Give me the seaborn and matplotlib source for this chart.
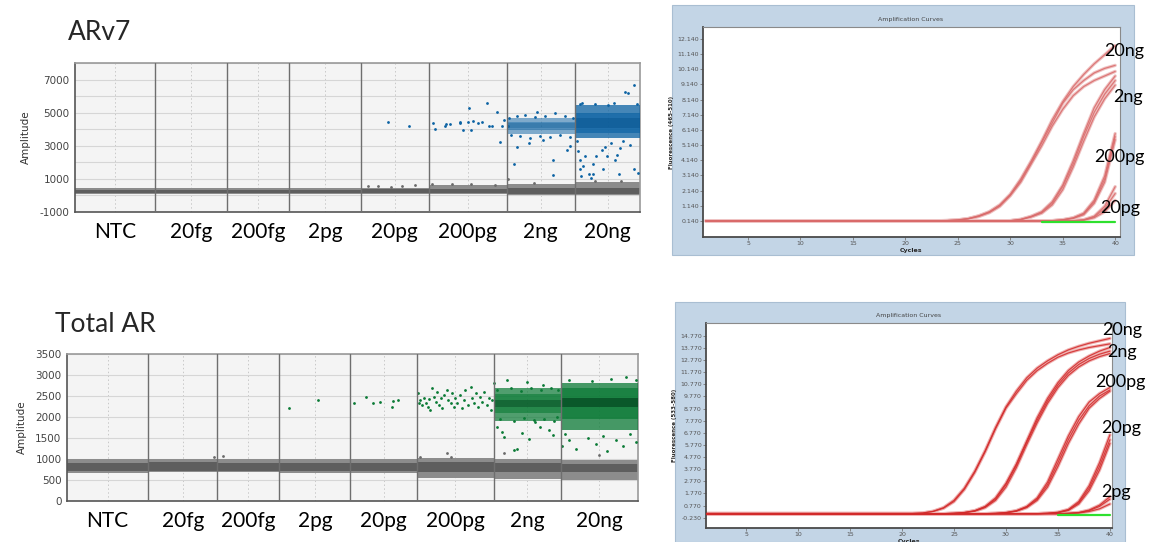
import numpy as np
import pandas as pd
import seaborn as sns
import matplotlib.pyplot as plt
from matplotlib.patches import Rectangle
from matplotlib.ticker import MultipleLocator

wells = ["NTC", "20fg", "200fg", "2pg", "20pg", "200pg", "2ng", "20ng"]

# ---------------- ddPCR droplet data ----------------
# droplets read per well (sets the width of each well on the event axis)
arv7_events = [16000, 14300, 12500, 14400, 13500, 15600, 13700, 13000]
total_events = [16200, 13800, 12400, 14200, 13200, 15400, 13400, 15400]

# negative droplet band per well: outer edge and dense core (amplitude)
arv7_neg_lo = [80, 80, 80, 90, 90, 90, 40, 30]
arv7_neg_hi = [430, 430, 440, 450, 470, 640, 720, 800]
arv7_neg_core_lo = [150, 150, 150, 160, 160, 160, 110, 100]
arv7_neg_core_hi = [340, 340, 340, 350, 360, 400, 430, 470]

total_neg_lo = [660, 680, 680, 670, 660, 540, 530, 500]
total_neg_hi = [1000, 1010, 1000, 1000, 1000, 1020, 990, 980]
total_neg_core_lo = [710, 720, 720, 710, 710, 700, 700, 690]
total_neg_core_hi = [900, 920, 910, 910, 900, 920, 900, 880]

# dense positive clusters (outer, core, centre amplitude bands)
pos_wells = ["2ng", "20ng"]
arv7_pos_outer = [(3700, 4650), (3450, 5450)]
arv7_pos_core = [(3950, 4450), (3800, 5000)]
arv7_pos_centre = [(4100, 4350), (4100, 4700)]
total_pos_outer = [(1900, 2700), (1700, 2820)]
total_pos_core = [(2100, 2550), (1950, 2700)]
total_pos_centre = [(2250, 2400), (2250, 2450)]

# single droplets: (well, position inside well, amplitude)
arv7_pos_drops = [
    ("20pg", .40, 4410), ("20pg", .71, 4210),
    ("200pg", .06, 4370), ("200pg", .085, 4010), ("200pg", .21, 4210), ("200pg", .23, 4330),
    ("200pg", .27, 4290), ("200pg", .40, 4370), ("200pg", .41, 4450), ("200pg", .44, 3930),
    ("200pg", .50, 4450), ("200pg", .52, 5290), ("200pg", .54, 3970), ("200pg", .57, 4490),
    ("200pg", .64, 4370), ("200pg", .685, 4410), ("200pg", .745, 5610), ("200pg", .77, 4210),
    ("200pg", .81, 4170), ("200pg", .88, 5050), ("200pg", .915, 3250), ("200pg", .94, 4170),
    ("200pg", .965, 4570),
    ("2ng", .02, 4170), ("2ng", .04, 4670), ("2ng", .07, 3670), ("2ng", .15, 4770), ("2ng", .20, 3570),
    ("2ng", .27, 4870), ("2ng", .34, 3470), ("2ng", .41, 4730), ("2ng", .49, 3610), ("2ng", .56, 4810),
    ("2ng", .63, 3530), ("2ng", .71, 4970), ("2ng", .78, 3650), ("2ng", .85, 4770), ("2ng", .93, 3530),
    ("2ng", .97, 4650), ("2ng", .11, 1870), ("2ng", .16, 2930), ("2ng", .45, 5070), ("2ng", .68, 2170),
    ("2ng", .68, 1210), ("2ng", .88, 2730), ("2ng", .93, 3010), ("2ng", .54, 3370), ("2ng", .33, 3170),
    ("20ng", .07, 5530), ("20ng", .10, 5610), ("20ng", .03, 3270), ("20ng", .05, 2670), ("20ng", .08, 2170),
    ("20ng", .08, 1570), ("20ng", .09, 1170), ("20ng", .13, 1770), ("20ng", .16, 2370), ("20ng", .21, 1270),
    ("20ng", .24, 1070), ("20ng", .28, 1870), ("20ng", .33, 2370), ("20ng", .41, 2770), ("20ng", .46, 2930),
    ("20ng", .49, 2370), ("20ng", .55, 3170), ("20ng", .62, 2170), ("20ng", .64, 2470), ("20ng", .69, 2870),
    ("20ng", .77, 6270), ("20ng", .82, 6170), ("20ng", .90, 6670), ("20ng", .74, 3270), ("20ng", .85, 3070),
    ("20ng", .97, 1370), ("20ng", .28, 1270), ("20ng", .43, 1570), ("20ng", .68, 1270), ("20ng", .90, 1570),
    ("20ng", .30, 5500), ("20ng", .50, 5450), ("20ng", .60, 5600), ("20ng", .95, 5500),
]
arv7_neg_drops = [
    ("20pg", .10, 550), ("20pg", .25, 600), ("20pg", .45, 520), ("20pg", .60, 580), ("20pg", .80, 620),
    ("200pg", .05, 700), ("200pg", .30, 680), ("200pg", .55, 700), ("200pg", .85, 660),
    ("2ng", .02, 1010), ("2ng", .40, 780), ("20ng", .30, 850), ("20ng", .70, 880),
]
total_pos_drops = [
    ("2pg", .13, 2213), ("2pg", .55, 2404),
    ("20pg", .05, 2340), ("20pg", .23, 2470), ("20pg", .34, 2325), ("20pg", .44, 2365),
    ("20pg", .65, 2390), ("20pg", .72, 2405), ("20pg", .63, 2230),
    ("200pg", .02, 2563), ("200pg", .03, 2340), ("200pg", .05, 2405), ("200pg", .07, 2285),
    ("200pg", .09, 2445), ("200pg", .12, 2325), ("200pg", .15, 2245), ("200pg", .16, 2420),
    ("200pg", .18, 2165), ("200pg", .20, 2680), ("200pg", .23, 2485), ("200pg", .25, 2365),
    ("200pg", .27, 2600), ("200pg", .29, 2285), ("200pg", .31, 2445), ("200pg", .33, 2205),
    ("200pg", .35, 2525), ("200pg", .39, 2640), ("200pg", .41, 2405), ("200pg", .44, 2325),
    ("200pg", .46, 2565), ("200pg", .48, 2245), ("200pg", .50, 2445), ("200pg", .53, 2325),
    ("200pg", .56, 2525), ("200pg", .59, 2205), ("200pg", .61, 2405), ("200pg", .63, 2640),
    ("200pg", .66, 2285), ("200pg", .70, 2720), ("200pg", .72, 2445), ("200pg", .74, 2325),
    ("200pg", .77, 2565), ("200pg", .80, 2245), ("200pg", .82, 2485), ("200pg", .85, 2365),
    ("200pg", .87, 2600), ("200pg", .91, 2285), ("200pg", .94, 2445), ("200pg", .96, 2165),
    ("200pg", .98, 2405),
    ("2ng", .01, 2800), ("2ng", .05, 1770), ("2ng", .13, 1650), ("2ng", .15, 1530), ("2ng", .30, 1210),
    ("2ng", .35, 1250), ("2ng", .42, 1610), ("2ng", .52, 1470), ("2ng", .62, 1890), ("2ng", .69, 1770),
    ("2ng", .82, 1690), ("2ng", .89, 1570), ("2ng", .94, 2010), ("2ng", .20, 2880), ("2ng", .50, 2840),
    ("2ng", .74, 2760), ("2ng", .05, 2650), ("2ng", .25, 2700), ("2ng", .40, 2620), ("2ng", .55, 2680),
    ("2ng", .70, 2640), ("2ng", .85, 2700), ("2ng", .95, 2650), ("2ng", .10, 1950), ("2ng", .30, 1900),
    ("2ng", .45, 1980), ("2ng", .60, 1920), ("2ng", .75, 1960), ("2ng", .90, 1900),
    ("20ng", .02, 1300), ("20ng", .05, 1600), ("20ng", .10, 1450), ("20ng", .20, 1250), ("20ng", .35, 1500),
    ("20ng", .45, 1350), ("20ng", .55, 1550), ("20ng", .60, 1200), ("20ng", .72, 1450), ("20ng", .80, 1300),
    ("20ng", .90, 1600), ("20ng", .97, 1400), ("20ng", .10, 2880), ("20ng", .40, 2850), ("20ng", .65, 2900),
    ("20ng", .85, 2950), ("20ng", .98, 2870),
]
total_neg_drops = [
    ("20fg", .95, 1050), ("200fg", .10, 1080), ("200pg", .05, 1050), ("200pg", .40, 1150),
    ("200pg", .45, 1050), ("2ng", .15, 1150), ("20ng", .50, 1100),
]

# ---------------- qPCR amplification curves ----------------
amp_cycles = list(range(21, 41))

arv7_20ng = [
    [0.14, 0.14, 0.15, 0.17, 0.21, 0.30, 0.48, 0.75, 1.20, 1.90, 2.90, 4.10, 5.40, 6.80, 8.00, 9.00, 9.80, 10.50, 11.10, 11.70],
    [0.14, 0.14, 0.15, 0.16, 0.20, 0.29, 0.46, 0.72, 1.15, 1.85, 2.80, 4.00, 5.30, 6.60, 7.90, 8.80, 9.40, 9.90, 10.20, 10.40],
    [0.14, 0.14, 0.14, 0.16, 0.19, 0.27, 0.43, 0.68, 1.10, 1.80, 2.70, 3.90, 5.10, 6.40, 7.50, 8.40, 9.00, 9.40, 9.70, 10.00],
]
arv7_2ng = [
    [0.14, 0.14, 0.14, 0.14, 0.14, 0.14, 0.14, 0.14, 0.14, 0.16, 0.25, 0.45, 0.75, 1.40, 2.50, 4.10, 5.90, 7.60, 8.80, 9.70],
    [0.14, 0.14, 0.14, 0.14, 0.14, 0.14, 0.14, 0.14, 0.14, 0.15, 0.23, 0.42, 0.70, 1.30, 2.40, 3.90, 5.70, 7.30, 8.50, 9.40],
    [0.14, 0.14, 0.14, 0.14, 0.14, 0.14, 0.14, 0.14, 0.14, 0.15, 0.22, 0.40, 0.65, 1.20, 2.20, 3.70, 5.40, 7.00, 8.20, 9.10],
]
arv7_200pg = [
    [0.14, 0.14, 0.14, 0.14, 0.14, 0.14, 0.14, 0.14, 0.14, 0.14, 0.14, 0.14, 0.14, 0.16, 0.22, 0.35, 0.65, 1.50, 3.10, 5.90],
    [0.14, 0.14, 0.14, 0.14, 0.14, 0.14, 0.14, 0.14, 0.14, 0.14, 0.14, 0.14, 0.14, 0.15, 0.21, 0.33, 0.60, 1.40, 2.90, 5.70],
    [0.14, 0.14, 0.14, 0.14, 0.14, 0.14, 0.14, 0.14, 0.14, 0.14, 0.14, 0.14, 0.14, 0.15, 0.20, 0.30, 0.55, 1.30, 2.70, 5.50],
]
arv7_20pg = [
    [0.14, 0.14, 0.14, 0.14, 0.14, 0.14, 0.14, 0.14, 0.14, 0.14, 0.14, 0.14, 0.14, 0.14, 0.14, 0.16, 0.22, 0.45, 1.10, 2.40],
    [0.14, 0.14, 0.14, 0.14, 0.14, 0.14, 0.14, 0.14, 0.14, 0.14, 0.14, 0.14, 0.14, 0.14, 0.14, 0.15, 0.20, 0.40, 0.95, 1.95],
    [0.14, 0.14, 0.14, 0.14, 0.14, 0.14, 0.14, 0.14, 0.14, 0.14, 0.14, 0.14, 0.14, 0.14, 0.14, 0.15, 0.18, 0.35, 0.75, 1.50],
]
arv7_ntc_cycles = [33, 34, 35, 36, 37, 38, 39, 40]
arv7_ntc = [0.06, 0.06, 0.06, 0.06, 0.06, 0.06, 0.06, 0.06]

total_20ng = [
    [0.12, 0.16, 0.30, 0.60, 1.20, 2.20, 3.60, 5.30, 7.20, 8.90, 10.20, 11.30, 12.10, 12.70, 13.20, 13.60, 13.90, 14.15, 14.35, 14.55],
    [0.12, 0.15, 0.28, 0.55, 1.10, 2.10, 3.50, 5.20, 7.10, 8.80, 10.00, 11.10, 11.90, 12.50, 13.00, 13.35, 13.60, 13.80, 13.95, 14.10],
]
total_2ng = [
    [0.10, 0.10, 0.10, 0.10, 0.14, 0.20, 0.35, 0.70, 1.40, 2.60, 4.20, 6.10, 8.00, 9.60, 10.90, 11.90, 12.60, 13.10, 13.50, 13.80],
    [0.10, 0.10, 0.10, 0.10, 0.13, 0.19, 0.33, 0.66, 1.30, 2.50, 4.10, 6.00, 7.80, 9.40, 10.70, 11.70, 12.40, 12.90, 13.25, 13.50],
    [0.10, 0.10, 0.10, 0.10, 0.12, 0.18, 0.30, 0.60, 1.20, 2.30, 3.90, 5.80, 7.60, 9.20, 10.50, 11.50, 12.20, 12.70, 13.05, 13.30],
]
total_200pg = [
    [0.10, 0.10, 0.10, 0.10, 0.10, 0.10, 0.10, 0.10, 0.13, 0.20, 0.35, 0.70, 1.40, 2.70, 4.60, 6.50, 8.10, 9.30, 10.00, 10.50],
    [0.10, 0.10, 0.10, 0.10, 0.10, 0.10, 0.10, 0.10, 0.12, 0.18, 0.32, 0.65, 1.30, 2.50, 4.30, 6.20, 7.80, 9.00, 9.80, 10.30],
    [0.10, 0.10, 0.10, 0.10, 0.10, 0.10, 0.10, 0.10, 0.12, 0.17, 0.30, 0.60, 1.20, 2.30, 4.00, 5.90, 7.50, 8.80, 9.60, 10.20],
]
total_20pg = [
    [0.10, 0.10, 0.10, 0.10, 0.10, 0.10, 0.10, 0.10, 0.10, 0.10, 0.10, 0.10, 0.10, 0.14, 0.22, 0.45, 1.10, 2.40, 4.30, 6.60],
    [0.10, 0.10, 0.10, 0.10, 0.10, 0.10, 0.10, 0.10, 0.10, 0.10, 0.10, 0.10, 0.10, 0.13, 0.20, 0.40, 1.00, 2.20, 4.00, 6.20],
    [0.10, 0.10, 0.10, 0.10, 0.10, 0.10, 0.10, 0.10, 0.10, 0.10, 0.10, 0.10, 0.10, 0.12, 0.18, 0.36, 0.90, 2.00, 3.70, 5.90],
]
total_2pg = [
    [0.10, 0.10, 0.10, 0.10, 0.10, 0.10, 0.10, 0.10, 0.10, 0.10, 0.10, 0.10, 0.10, 0.10, 0.10, 0.14, 0.20, 0.40, 0.80, 1.50],
    [0.10, 0.10, 0.10, 0.10, 0.10, 0.10, 0.10, 0.10, 0.10, 0.10, 0.10, 0.10, 0.10, 0.10, 0.10, 0.12, 0.18, 0.35, 0.70, 1.30],
    [0.10, 0.10, 0.10, 0.10, 0.10, 0.10, 0.10, 0.10, 0.10, 0.10, 0.10, 0.10, 0.10, 0.10, 0.10, 0.11, 0.15, 0.28, 0.50, 0.90],
]
total_ntc_cycles = [35, 36, 37, 38, 39, 40]
total_ntc = [0.02, 0.02, 0.02, 0.02, 0.02, 0.02]

arv7_fl_ticks = [0.14, 1.14, 2.14, 3.14, 4.14, 5.14, 6.14, 7.14, 8.14, 9.14, 10.14, 11.14, 12.14]
total_fl_ticks = [-0.23, 0.77, 1.77, 2.77, 3.77, 4.77, 5.77, 6.77, 7.77, 8.77, 9.77, 10.77, 11.77, 12.77, 13.77, 14.77]

# ---------------- drawing ----------------
sns.set_theme(style="white")
plt.rcParams["font.family"] = ["Lato", "DejaVu Sans"]

W, H = 1152, 542
fig = plt.figure(figsize=(W / 100, H / 100), dpi=100)


def px_box(l, t, r, b):
    return [l / W, 1 - b / H, (r - l) / W, (b - t) / H]


def droplet_panel(ax, events, neg, pos_bands, pos_alphas, pos_drops, neg_drops, colors, ylim, ystep, ylabels):
    edges = np.concatenate([[0], np.cumsum(events)])
    centers = (edges[:-1] + edges[1:]) / 2
    ev = np.array(events)
    for i in range(len(wells)):
        x = [edges[i], edges[i + 1]]
        ax.fill_between(x, neg[0][i], neg[1][i], color="#8c8c8c", lw=0, zorder=2)
        ax.fill_between(x, neg[2][i], neg[3][i], color="#5e5e5e", lw=0, zorder=2)
    for j, w in enumerate(pos_wells):
        i = wells.index(w)
        x = [edges[i], edges[i + 1]]
        for band, a, c in zip(pos_bands, pos_alphas[j], colors):
            ax.fill_between(x, band[j][0], band[j][1], color=c, alpha=a, lw=0, zorder=3)
    for drops, c in [(neg_drops, "#6a6a6a"), (pos_drops, colors[0])]:
        df = pd.DataFrame(drops, columns=["well", "pos", "amp"])
        idx = df["well"].map(wells.index).to_numpy()
        df["event"] = edges[idx] + df["pos"] * ev[idx]
        sns.scatterplot(data=df, x="event", y="amp", color=c, s=4, linewidth=0,
                        ax=ax, zorder=4, legend=False)
    ax.set_facecolor("#f4f4f4")
    ax.set_xlim(0, edges[-1])
    ax.set_ylim(*ylim)
    for e in edges[1:-1]:
        ax.axvline(e, color="#6e6e6e", lw=1.0, zorder=5)
    ax.set_xticks(centers)
    ax.set_xticklabels(wells, fontsize=15, color="black")
    ax.set_yticks(ylabels)
    ax.set_yticklabels([str(v) for v in ylabels], fontsize=7.5, color="#444444",
                       family="DejaVu Sans")
    ax.yaxis.set_minor_locator(MultipleLocator(ystep))
    ax.tick_params(axis="x", length=0, pad=7)
    ax.tick_params(axis="y", which="both", length=0, pad=4)
    ax.grid(axis="y", which="both", color="#d6d6d6", lw=0.8, zorder=1)
    ax.grid(axis="x", color="#c8c8c8", lw=0.7, ls=(0, (1.5, 2.5)), zorder=1)
    ax.set_axisbelow(True)
    ax.set_xlabel("")
    ax.set_ylabel("Amplitude", fontsize=7.5, color="#333333", family="DejaVu Sans", labelpad=6)
    for s in ax.spines.values():
        s.set_color("#9a9a9a")
        s.set_linewidth(1.2)
    ax.spines["left"].set_color("#555555")
    ax.spines["bottom"].set_color("#555555")


def amp_panel(ax, groups, ntc_cycles, ntc, xlim, ylim, yticks, ylabel, labels, pale, core):
    rows = []
    for name, reps in groups:
        for k, vals in enumerate(reps):
            for c, v in zip([1] + amp_cycles, [vals[0]] + vals):
                rows.append((f"{name}-{k}", c, v))
    df = pd.DataFrame(rows, columns=["curve", "cycle", "fluor"])
    sns.lineplot(data=df, x="cycle", y="fluor", units="curve", estimator=None,
                 color=pale, lw=2.4, ax=ax, zorder=2)
    sns.lineplot(data=df, x="cycle", y="fluor", units="curve", estimator=None,
                 color=core, lw=0.9, alpha=0.85, ax=ax, zorder=3)
    sns.lineplot(x=ntc_cycles, y=ntc, color="#2ee02e", lw=1.6, ax=ax, zorder=4)
    ax.set_facecolor("white")
    ax.set_xlim(*xlim)
    ax.set_ylim(*ylim)
    ax.set_xticks([5, 10, 15, 20, 25, 30, 35, 40])
    ax.set_xticklabels(["5", "10", "15", "20", "25", "30", "35", "40"])
    ax.set_yticks(yticks)
    ax.set_yticklabels([f"{v:.3f}" for v in yticks])
    ax.tick_params(labelsize=4.5, labelcolor="#555555", length=2, width=0.6,
                   color="#777777", pad=1, direction="out", left=True, bottom=True)
    for lab in ax.get_xticklabels() + ax.get_yticklabels():
        lab.set_family("DejaVu Sans")
    ax.set_xlabel("Cycles", fontsize=4.5, fontweight="bold", family="DejaVu Sans", labelpad=1)
    ax.set_ylabel(ylabel, fontsize=4, fontweight="bold", family="DejaVu Sans", labelpad=2)
    ax.grid(False)
    for s in ax.spines.values():
        s.set_color("#8a8a8a")
        s.set_linewidth(0.8)
    ax.spines["left"].set_color("#4a4a4a")
    ax.spines["left"].set_linewidth(1.3)
    ax.spines["bottom"].set_color("#4a4a4a")
    ax.spines["bottom"].set_linewidth(1.3)
    for text, x, y in labels:
        ax.text(x, y, text, fontsize=13, color="black", va="center", ha="left",
                clip_on=False, zorder=6)


# left: droplet plots
ax1 = fig.add_axes(px_box(75, 63, 640, 212))
droplet_panel(ax1, arv7_events,
              (arv7_neg_lo, arv7_neg_hi, arv7_neg_core_lo, arv7_neg_core_hi),
              (arv7_pos_outer, arv7_pos_core, arv7_pos_centre), [(0.5, 0.4, 0.3), (0.75, 0.65, 0.5)],
              arv7_pos_drops, arv7_neg_drops, ("#0b62a3", "#0b62a3", "#08558f"),
              (-1000, 8000), 1000, [-1000, 1000, 3000, 5000, 7000])

ax2 = fig.add_axes(px_box(67, 354, 638, 501))
droplet_panel(ax2, total_events,
              (total_neg_lo, total_neg_hi, total_neg_core_lo, total_neg_core_hi),
              (total_pos_outer, total_pos_core, total_pos_centre), [(0.7, 0.6, 0.5), (0.75, 0.7, 0.75)],
              total_pos_drops, total_neg_drops, ("#0a7a35", "#0a7a35", "#054a22"),
              (0, 3500), 500, [0, 500, 1000, 1500, 2000, 2500, 3000, 3500])

fig.text(68 / W, 1 - 32 / H, "ARv7", fontsize=19, va="center", ha="left")
fig.text(55 / W, 1 - 325 / H, "Total AR", fontsize=19, va="center", ha="left")

# right: amplification curves on blue instrument panels
fig.add_artist(Rectangle((672 / W, 1 - 255 / H), 462 / W, 250 / H, transform=fig.transFigure,
                         facecolor="#c3d5e6", edgecolor="#a9bed2", lw=0.8, zorder=-1))
fig.add_artist(Rectangle((675 / W, 0), 450 / W, 240 / H, transform=fig.transFigure,
                         facecolor="#c3d5e6", edgecolor="#a9bed2", lw=0.8, zorder=-1))

ax3 = fig.add_axes(px_box(703, 27, 1120, 237))
amp_panel(ax3, [("20ng", arv7_20ng), ("2ng", arv7_2ng), ("200pg", arv7_200pg), ("20pg", arv7_20pg)],
          arv7_ntc_cycles, arv7_ntc, (0.71, 40.46), (-0.92, 12.93), arv7_fl_ticks,
          "Fluorescence (465-510)",
          [("20ng", 39.0, 11.33), ("2ng", 39.8, 8.29), ("200pg", 38.0, 4.38), ("20pg", 38.55, 1.0)],
          "#efc3c3", "#d96a6a")

ax4 = fig.add_axes(px_box(706, 323, 1112, 528))
amp_panel(ax4, [("20ng", total_20ng), ("2ng", total_2ng), ("200pg", total_200pg),
                ("20pg", total_20pg), ("2pg", total_2pg)],
          total_ntc_cycles, total_ntc, (1.15, 40.2), (-1.08, 15.82), total_fl_ticks,
          "Fluorescence (533-580)",
          [("20ng", 39.3, 15.24), ("2ng", 39.7, 13.43), ("200pg", 38.6, 10.95),
           ("20pg", 39.2, 7.16), ("2pg", 39.2, 1.89)],
          "#f0b5b5", "#d22a2a")

fig.text(911 / W, 1 - 19 / H, "Amplification Curves", fontsize=4.5, ha="center", va="center",
         color="#444444", family="DejaVu Sans")
fig.text(909 / W, 1 - 316 / H, "Amplification Curves", fontsize=4.5, ha="center", va="center",
         color="#444444", family="DejaVu Sans")

fig.savefig("out.png", dpi=100)
